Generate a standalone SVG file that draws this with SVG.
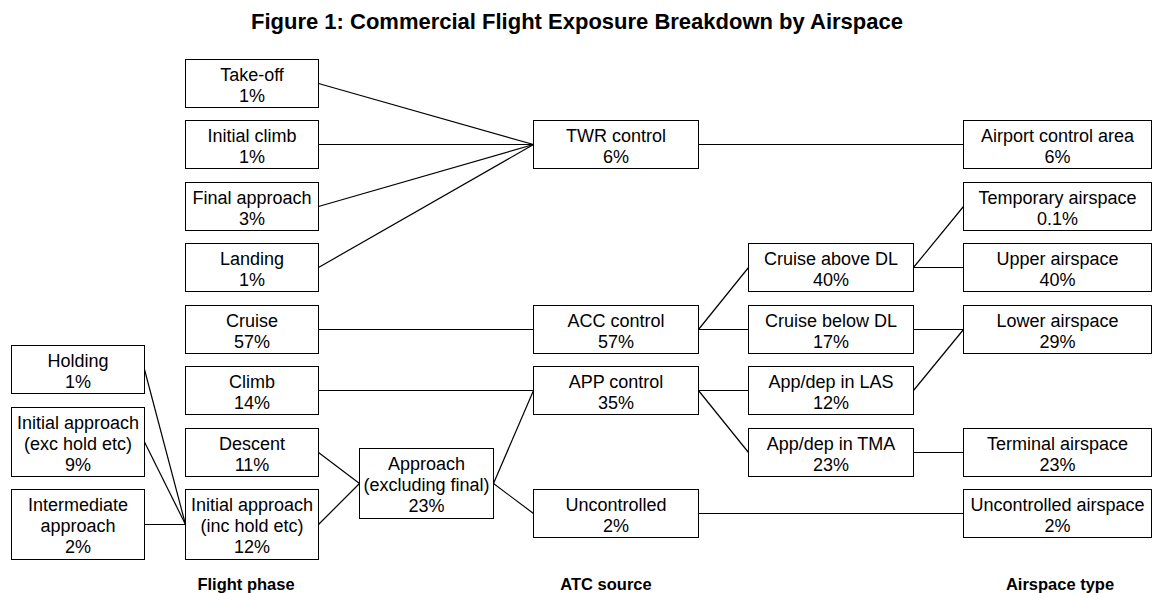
<svg xmlns="http://www.w3.org/2000/svg" width="1155" height="593" viewBox="0 0 1155 593">
<style>
.n rect{fill:#fff;stroke:#000;stroke-width:1}
.n text,.t{font-family:"Liberation Sans",Arial,sans-serif;font-size:18px;fill:#000;text-anchor:middle}
.h{font-family:"Liberation Sans",Arial,sans-serif;font-weight:bold;fill:#000;text-anchor:middle}
#connectors line{stroke:#000;stroke-width:1.2;fill:none}
</style>
<rect width="1155" height="593" fill="#fff"/>
<text class="h" x="577" y="28.5" font-size="22">Figure 1: Commercial Flight Exposure Breakdown by Airspace</text>
<g id="connectors">
<line x1="318.5" y1="83.5" x2="533.5" y2="144.5"/>
<line x1="318.5" y1="144.5" x2="533.5" y2="144.5"/>
<line x1="318.5" y1="206.5" x2="533.5" y2="144.5"/>
<line x1="318.5" y1="267.5" x2="533.5" y2="144.5"/>
<line x1="698.5" y1="144.5" x2="963.5" y2="144.5"/>
<line x1="318.5" y1="329.5" x2="533.5" y2="329.5"/>
<line x1="318.5" y1="390.5" x2="533.5" y2="390.5"/>
<line x1="144.5" y1="369.5" x2="185.5" y2="524.5"/>
<line x1="144.5" y1="442" x2="185.5" y2="524.5"/>
<line x1="144.5" y1="524.5" x2="185.5" y2="524.5"/>
<line x1="318.5" y1="452.5" x2="359.5" y2="483.5"/>
<line x1="318.5" y1="524.5" x2="359.5" y2="483.5"/>
<line x1="493.5" y1="483.5" x2="533.5" y2="390.5"/>
<line x1="493.5" y1="483.5" x2="533.5" y2="513.5"/>
<line x1="698.5" y1="329.5" x2="748.5" y2="267.5"/>
<line x1="698.5" y1="329.5" x2="748.5" y2="329.5"/>
<line x1="698.5" y1="390.5" x2="748.5" y2="390.5"/>
<line x1="698.5" y1="390.5" x2="748.5" y2="452.5"/>
<line x1="913.5" y1="267.5" x2="963.5" y2="206.5"/>
<line x1="913.5" y1="267.5" x2="963.5" y2="267.5"/>
<line x1="913.5" y1="329.5" x2="963.5" y2="329.5"/>
<line x1="913.5" y1="390.5" x2="963.5" y2="329.5"/>
<line x1="913.5" y1="452.5" x2="963.5" y2="452.5"/>
<line x1="698.5" y1="513.5" x2="963.5" y2="513.5"/>
</g>
<g id="holding" class="n"><rect x="11.5" y="345.5" width="133" height="48"/><text x="78" y="367">Holding</text><text x="78" y="388">1%</text></g>
<g id="init-approach-exc" class="n"><rect x="11.5" y="407.5" width="133" height="69"/><text x="78" y="428.5">Initial approach</text><text x="78" y="449.5">(exc hold etc)</text><text x="78" y="470.5">9%</text></g>
<g id="intermediate" class="n"><rect x="11.5" y="489.5" width="133" height="70"/><text x="78" y="511">Intermediate</text><text x="78" y="532">approach</text><text x="78" y="553">2%</text></g>
<g id="takeoff" class="n"><rect x="185.5" y="59.5" width="133" height="48"/><text x="252" y="81">Take-off</text><text x="252" y="102">1%</text></g>
<g id="initial-climb" class="n"><rect x="185.5" y="120.5" width="133" height="48"/><text x="252" y="142">Initial climb</text><text x="252" y="163">1%</text></g>
<g id="final-approach" class="n"><rect x="185.5" y="182.5" width="133" height="48"/><text x="252" y="204">Final approach</text><text x="252" y="225">3%</text></g>
<g id="landing" class="n"><rect x="185.5" y="243.5" width="133" height="48"/><text x="252" y="265">Landing</text><text x="252" y="286">1%</text></g>
<g id="cruise" class="n"><rect x="185.5" y="305.5" width="133" height="48"/><text x="252" y="327">Cruise</text><text x="252" y="348">57%</text></g>
<g id="climb" class="n"><rect x="185.5" y="366.5" width="133" height="48"/><text x="252" y="388">Climb</text><text x="252" y="409">14%</text></g>
<g id="descent" class="n"><rect x="185.5" y="428.5" width="133" height="48"/><text x="252" y="450">Descent</text><text x="252" y="471">11%</text></g>
<g id="init-approach-inc" class="n"><rect x="185.5" y="489.5" width="133" height="70"/><text x="252" y="511">Initial approach</text><text x="252" y="532">(inc hold etc)</text><text x="252" y="553">12%</text></g>
<g id="approach" class="n"><rect x="359.5" y="448.5" width="134" height="70"/><text x="426.5" y="470">Approach</text><text x="426.5" y="491">(excluding final)</text><text x="426.5" y="512">23%</text></g>
<g id="twr" class="n"><rect x="533.5" y="120.5" width="165" height="48"/><text x="616" y="142">TWR control</text><text x="616" y="163">6%</text></g>
<g id="acc" class="n"><rect x="533.5" y="305.5" width="165" height="48"/><text x="616" y="327">ACC control</text><text x="616" y="348">57%</text></g>
<g id="app" class="n"><rect x="533.5" y="366.5" width="165" height="48"/><text x="616" y="388">APP control</text><text x="616" y="409">35%</text></g>
<g id="uncontrolled" class="n"><rect x="533.5" y="489.5" width="165" height="48"/><text x="616" y="511">Uncontrolled</text><text x="616" y="532">2%</text></g>
<g id="cruise-above" class="n"><rect x="748.5" y="243.5" width="165" height="48"/><text x="831" y="265">Cruise above DL</text><text x="831" y="286">40%</text></g>
<g id="cruise-below" class="n"><rect x="748.5" y="305.5" width="165" height="48"/><text x="831" y="327">Cruise below DL</text><text x="831" y="348">17%</text></g>
<g id="appdep-las" class="n"><rect x="748.5" y="366.5" width="165" height="48"/><text x="831" y="388">App/dep in LAS</text><text x="831" y="409">12%</text></g>
<g id="appdep-tma" class="n"><rect x="748.5" y="428.5" width="165" height="48"/><text x="831" y="450">App/dep in TMA</text><text x="831" y="471">23%</text></g>
<g id="airport-control" class="n"><rect x="963.5" y="120.5" width="188" height="48"/><text x="1057.5" y="142">Airport control area</text><text x="1057.5" y="163">6%</text></g>
<g id="temporary" class="n"><rect x="963.5" y="182.5" width="188" height="48"/><text x="1057.5" y="204">Temporary airspace</text><text x="1057.5" y="225">0.1%</text></g>
<g id="upper" class="n"><rect x="963.5" y="243.5" width="188" height="48"/><text x="1057.5" y="265">Upper airspace</text><text x="1057.5" y="286">40%</text></g>
<g id="lower" class="n"><rect x="963.5" y="305.5" width="188" height="48"/><text x="1057.5" y="327">Lower airspace</text><text x="1057.5" y="348">29%</text></g>
<g id="terminal" class="n"><rect x="963.5" y="428.5" width="188" height="48"/><text x="1057.5" y="450">Terminal airspace</text><text x="1057.5" y="471">23%</text></g>
<g id="uncontrolled-airspace" class="n"><rect x="963.5" y="489.5" width="188" height="48"/><text x="1057.5" y="511">Uncontrolled airspace</text><text x="1057.5" y="532">2%</text></g>
<text class="h" x="246" y="590" font-size="16.5">Flight phase</text>
<text class="h" x="606" y="590" font-size="16.5">ATC source</text>
<text class="h" x="1060" y="590" font-size="16.5">Airspace type</text>
</svg>
